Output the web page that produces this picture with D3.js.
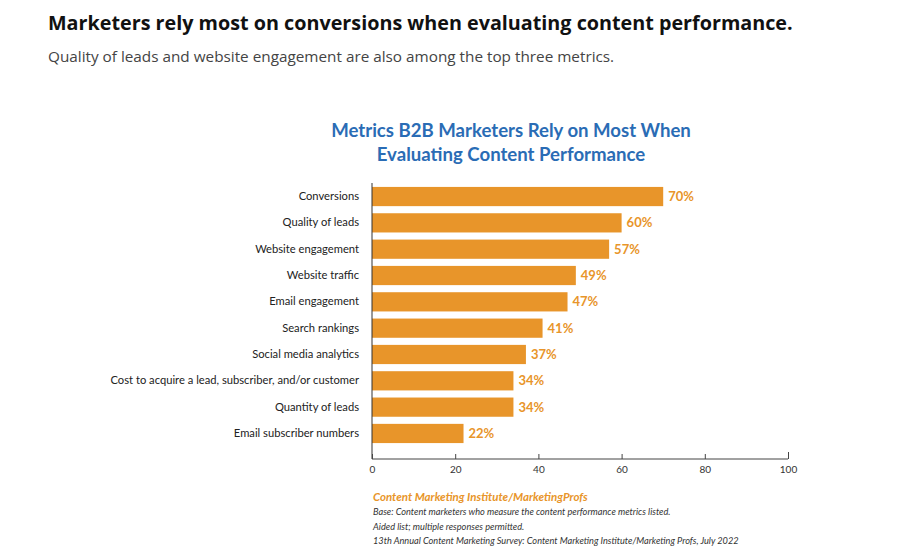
<!DOCTYPE html>
<html><head><meta charset="utf-8">
<script src="https://cdn.jsdelivr.net/npm/d3@7"></script>
<style>body{margin:0;background:#fff;} svg{display:block;}</style>
</head><body>
<svg id="c" width="900" height="560"></svg>
<script>
const categories = ["Conversions","Quality of leads","Website engagement","Website traffic","Email engagement","Search rankings","Social media analytics","Cost to acquire a lead, subscriber, and/or customer","Quantity of leads","Email subscriber numbers"];
const values = [70,60,57,49,47,41,37,34,34,22];
const ticks = [0,20,40,60,80,100];
const headline = "Marketers rely most on conversions when evaluating content performance.";
const subhead = "Quality of leads and website engagement are also among the top three metrics.";
const chartTitle = ["Metrics B2B Marketers Rely on Most When","Evaluating Content Performance"];
const source = "Content Marketing Institute/MarketingProfs";
const notes = ["Base: Content marketers who measure the content performance metrics listed.","Aided list; multiple responses permitted.","13th Annual Content Marketing Survey: Content Marketing Institute/Marketing Profs, July 2022"];

const svg = d3.select("#c");
const orange = "#E8952A";
const font = "Lato, 'Open Sans', sans-serif";

svg.append("text").attr("x",48).attr("y",30).attr("font-family","'Open Sans', sans-serif").attr("font-weight",700).attr("font-size",19.75).attr("fill","#111").text(headline);
svg.append("text").attr("x",48).attr("y",62).attr("font-family","'Open Sans', sans-serif").attr("font-size",15.3).attr("fill","#444").text(subhead);

svg.selectAll("text.ct").data(chartTitle).join("text").attr("class","ct")
  .attr("x",511).attr("y",(d,i)=>137+i*24).attr("text-anchor","middle")
  .attr("font-family",font).attr("font-weight",700).attr("font-size",18.6).attr("fill","#2A6CB5").text(d=>d);

const x = d3.scaleLinear().domain([0,100]).range([372,788]);
const y = d3.scaleBand().domain(categories).range([183.5,446.5]).paddingInner(0.27).paddingOuter(0.13);

svg.selectAll("rect.bar").data(values).join("rect").attr("class","bar")
  .attr("x",x(0)).attr("y",(d,i)=>y(categories[i])).attr("width",d=>x(d)-x(0)).attr("height",y.bandwidth()).attr("fill",orange);

svg.selectAll("text.val").data(values).join("text").attr("class","val")
  .attr("x",d=>x(d)+5).attr("y",(d,i)=>y(categories[i])+y.bandwidth()/2).attr("dy","0.35em")
  .attr("font-family",font).attr("font-weight",700).attr("font-size",13).attr("fill",orange).text(d=>d+"%");

const yAxis = svg.append("g").attr("transform",`translate(${x(0)},0)`).call(d3.axisLeft(y).tickSize(0).tickPadding(13));
yAxis.select(".domain").attr("stroke","#333").attr("d",`M0,183V459`);
yAxis.selectAll("text").attr("font-family",font).attr("font-size",11.2).attr("fill","#222");

const xAxis = svg.append("g").attr("transform","translate(0,459)").call(d3.axisBottom(x).tickValues(ticks).tickSize(-5).tickPadding(7));
xAxis.select(".domain").attr("stroke","#444").attr("d","M372,0H788");
xAxis.selectAll(".tick line").attr("stroke","#444").attr("y2",d=>d===100?-7:-5);
xAxis.selectAll("text").attr("font-family",font).attr("font-size",10).attr("fill","#333");

svg.append("text").attr("x",373).attr("y",501).attr("font-family",font).attr("font-weight",700).attr("font-style","italic").attr("font-size",11.5).attr("fill",orange).text(source);
svg.selectAll("text.note").data(notes).join("text").attr("class","note")
  .attr("x",373).attr("y",(d,i)=>515+i*14.5).attr("font-family",font).attr("font-style","italic").attr("font-size",9.2).attr("fill","#333").text(d=>d);
</script>
</body></html>
